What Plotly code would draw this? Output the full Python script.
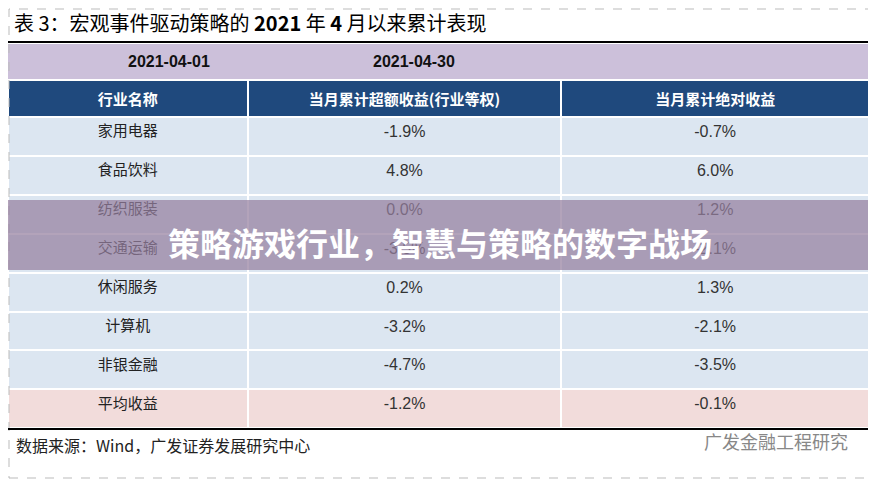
import plotly.graph_objects as go

industries = ["家用电器", "食品饮料", "纺织服装", "交通运输", "休闲服务", "计算机", "非银金融", "平均收益"]
excess = ["-1.9%", "4.8%", "0.0%", "-3.5%", "0.2%", "-3.2%", "-4.7%", "-1.2%"]
absolute = ["-0.7%", "6.0%", "1.2%", "-2.1%", "1.3%", "-2.1%", "-3.5%", "-0.1%"]
headers = ["行业名称", "当月累计超额收益(行业等权)", "当月累计绝对收益"]
dates = ["2021-04-01", "2021-04-30"]

OFF = 8
W, H = 876 - OFF, 480 - OFF
def yf(p): return min(1, max(0, 1 - (p - OFF) / H))
def xf(p): return min(1, max(0, (p - OFF) / W))

fills = ["#DCE6F1"] * 7 + ["#F2DCDB"]
fig = go.Figure(go.Table(
    domain=dict(x=[xf(8), xf(869)], y=[yf(428), yf(80)]),
    columnwidth=[240, 314, 308],
    header=dict(values=[f"<b>{h}</b>" for h in headers], fill_color="#1F497D",
                line=dict(color="white", width=2), height=37,
                font=dict(color="white", size=15, family="Noto Sans CJK SC")),
    cells=dict(values=[industries, excess, absolute],
               fill_color=[fills, fills, fills],
               line=dict(color="white", width=2), height=38.9,
               font=dict(color=["#222", "#333", "#333"], size=[15, 16, 16],
                         family=["Noto Sans CJK SC", "Liberation Sans", "Liberation Sans"])),
))

shapes = [
    dict(type="rect", xref="paper", yref="paper", x0=xf(9), x1=xf(873), y0=yf(478), y1=yf(9),
         line=dict(color="#BBBBBB", width=1, dash="dash")),
    dict(type="rect", xref="paper", yref="paper", x0=xf(8), x1=xf(869), y0=yf(80), y1=yf(44),
         fillcolor="#CCC0DA", line=dict(width=0), layer="below"),
    dict(type="line", xref="paper", yref="paper", x0=xf(8), x1=xf(869), y0=yf(42), y1=yf(42),
         line=dict(color="black", width=2)),
    dict(type="line", xref="paper", yref="paper", x0=xf(8), x1=xf(869), y0=yf(429), y1=yf(429),
         line=dict(color="black", width=2)),
    dict(type="rect", xref="paper", yref="paper", x0=0, x1=1, y0=yf(270), y1=yf(200),
         fillcolor="rgba(150,128,160,0.72)", line=dict(width=0), layer="above"),
]
ann = [
    dict(text="表 3：宏观事件驱动策略的 <b>2021</b> 年 <b>4</b> 月以来累计表现", x=xf(12), y=yf(22),
         xanchor="left", font=dict(size=20, color="black", family="Noto Sans CJK SC")),
    dict(text=f"<b>{dates[0]}</b>", x=xf(126), y=yf(61), font=dict(size=16, color="#111", family="Liberation Sans")),
    dict(text=f"<b>{dates[1]}</b>", x=xf(414), y=yf(61), font=dict(size=16, color="#111", family="Liberation Sans")),
    dict(text="数据来源：Wind，广发证券发展研究中心", x=xf(14), y=yf(445), xanchor="left",
         font=dict(size=16, color="#222", family="Noto Sans CJK SC")),
    dict(text="广发金融工程研究", x=xf(850), y=yf(441), xanchor="right",
         font=dict(size=18, color="#888", family="Noto Sans CJK SC")),
    dict(text="<b>策略游戏行业，智慧与策略的数字战场</b>", x=xf(440), y=yf(242),
         font=dict(size=32, color="white", family="Noto Sans CJK SC")),
]
for a in ann:
    a.update(xref="paper", yref="paper", showarrow=False, yanchor="middle")
fig.update_layout(width=W, height=H, margin=dict(l=0, r=0, t=0, b=0),
                  paper_bgcolor="white", shapes=shapes, annotations=ann)
fig.write_html("out.html")
